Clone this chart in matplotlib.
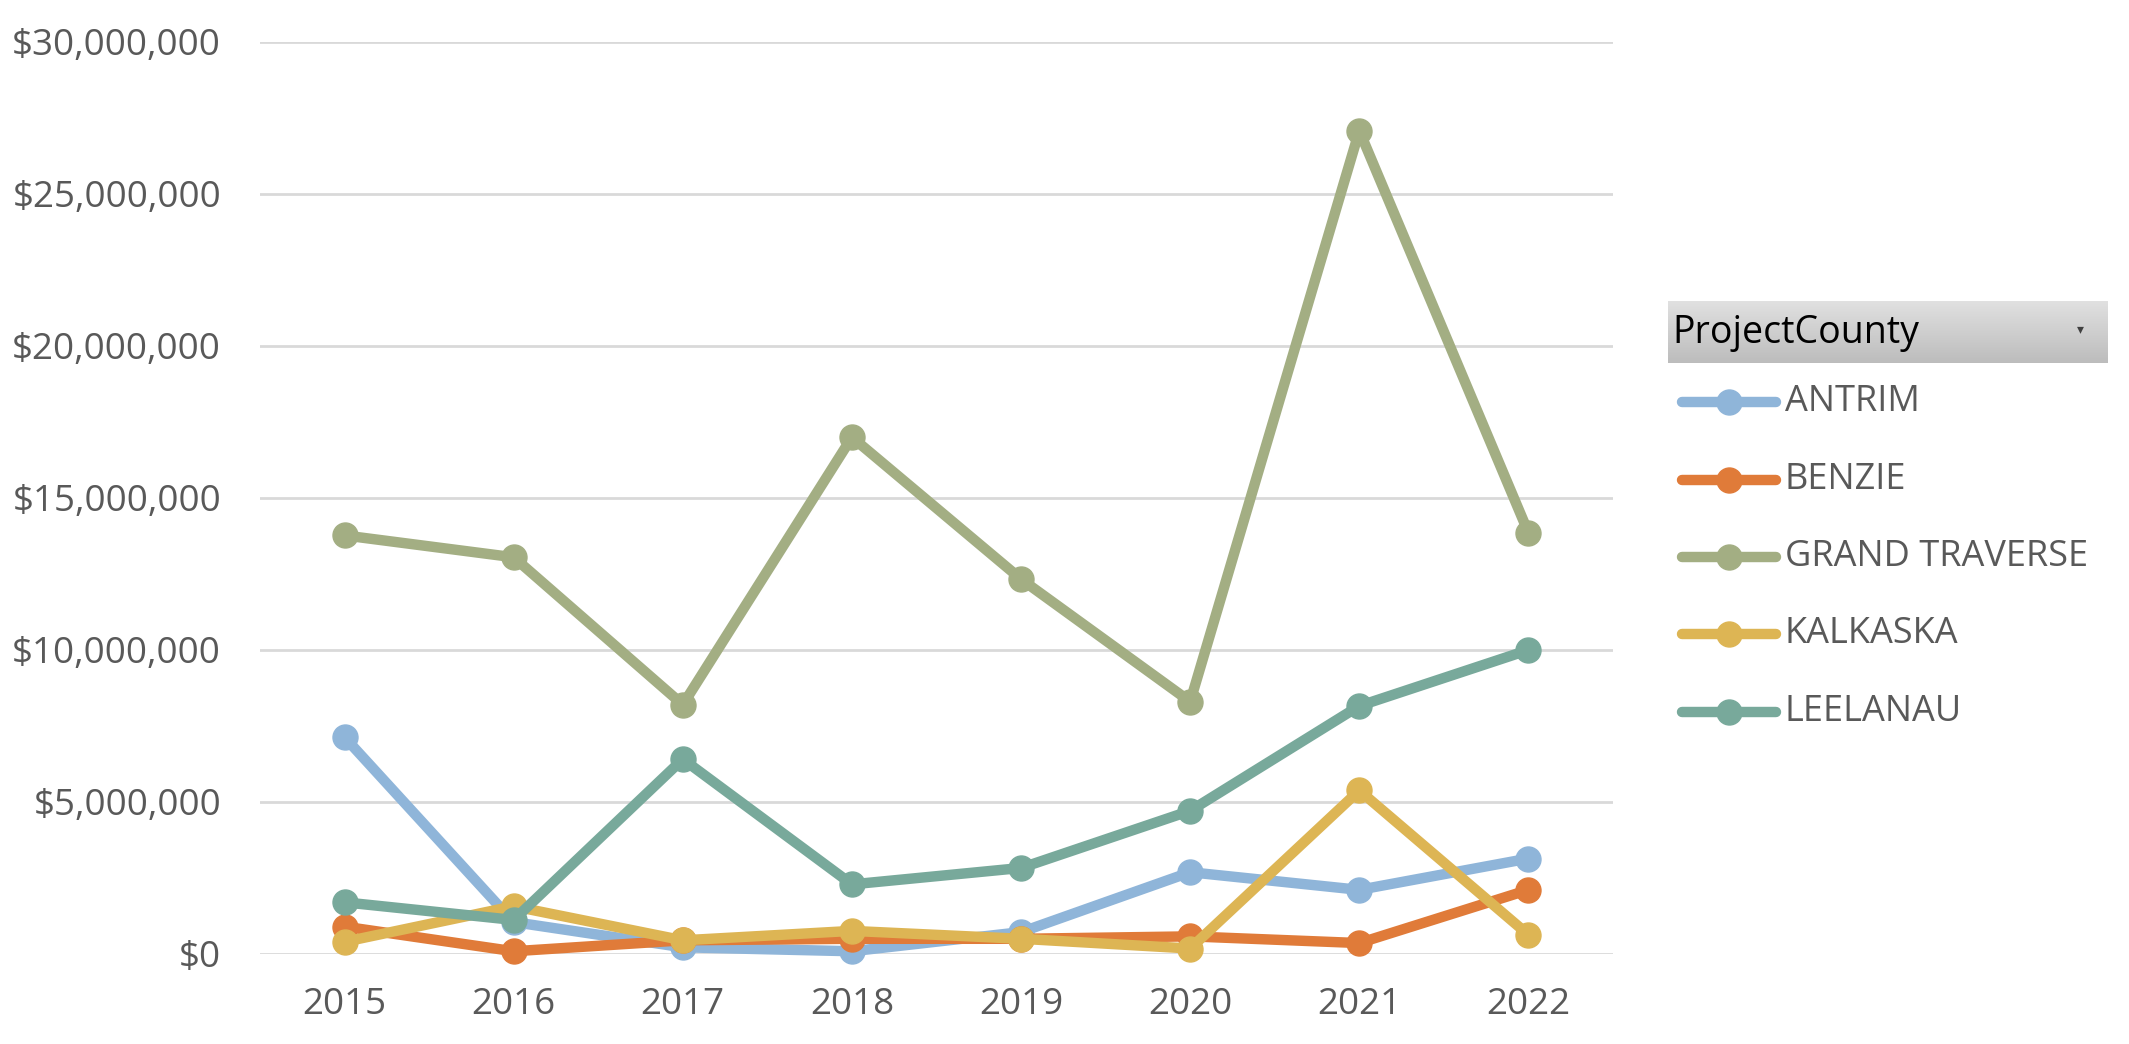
import numpy as np
import matplotlib
matplotlib.use("Agg")
import matplotlib.pyplot as plt
from matplotlib.lines import Line2D
from matplotlib.ticker import FuncFormatter

years = ["2015", "2016", "2017", "2018", "2019", "2020", "2021", "2022"]
counties = ["ANTRIM", "BENZIE", "GRAND TRAVERSE", "KALKASKA", "LEELANAU"]

antrim = [7.13, 1.05, 0.22, 0.09, 0.72, 2.69, 2.11, 3.14]
benzie = [0.90, 0.09, 0.45, 0.50, 0.50, 0.58, 0.36, 2.11]
grand_traverse = [13.77, 13.05, 8.20, 17.00, 12.33, 8.30, 27.08, 13.86]
kalkaska = [0.40, 1.57, 0.45, 0.76, 0.50, 0.18, 5.38, 0.63]
leelanau = [1.70, 1.12, 6.41, 2.29, 2.83, 4.71, 8.16, 10.00]

colors = ["#8FB5D9", "#E07B39", "#A3AE83", "#DDB554", "#78A99B"]
series = [antrim, benzie, grand_traverse, kalkaska, leelanau]

W, H = 2129, 1044
fig = plt.figure(figsize=(W / 100, H / 100), dpi=100)
fig.patch.set_facecolor("white")
plt.rcParams['font.family'] = ['Open Sans', 'DejaVu Sans']

# plot area in pixels
x0, x1 = 260, 1613
y_top, y_bot = 42, 954
ax = fig.add_axes([x0 / W, 1 - y_bot / H, (x1 - x0) / W, (y_bot - y_top) / H])
ax.set_xlim(-0.5, len(years) - 0.5)
ax.set_ylim(0, 30e6)

xs = np.arange(len(years))
for vals, c in zip(series, colors):
    ax.plot(xs, np.array(vals) * 1e6, color=c, lw=7.5, marker="o", ms=18,
            solid_capstyle="round", solid_joinstyle="round", zorder=3, clip_on=False)

ax.set_yticks(np.arange(0, 30e6 + 1, 5e6))
ax.yaxis.set_major_formatter(FuncFormatter(lambda v, p: "${:,.0f}".format(v)))
ax.set_xticks(xs)
ax.set_xticklabels(years)
ax.grid(axis="y", color="#D9D9D9", lw=2)
ax.set_axisbelow(True)
for s in ax.spines.values():
    s.set_visible(False)
ax.tick_params(length=0, labelsize=26.5, colors="#595959")
ax.tick_params(axis="y", pad=28)
ax.tick_params(axis="x", pad=24)

# legend header with gradient
hx0, hx1, hy0, hy1 = 1668, 2108, 301, 363
hax = fig.add_axes([hx0 / W, 1 - hy1 / H, (hx1 - hx0) / W, (hy1 - hy0) / H])
grad = np.linspace(0.88, 0.74, 50).reshape(-1, 1)
hax.imshow(np.dstack([grad, grad, grad]), aspect="auto", extent=[0, 1, 0, 1])
hax.set_xlim(0, 1)
hax.set_ylim(0, 1)
hax.axis("off")
fig.text(1672 / W, 1 - 333 / H, "ProjectCounty", fontsize=27, color="black",
         va="center", ha="left")
fig.text(2080 / W, 1 - 330 / H, "\u25BE", fontsize=10, color="#404040",
         va="center", ha="center")

rows = [402, 480, 557, 634, 712]
for name, c, ry in zip(counties, colors, rows):
    yy = 1 - ry / H
    fig.add_artist(Line2D([1682 / W, 1776 / W], [yy, yy], color=c, lw=7.5,
                          solid_capstyle="round", transform=fig.transFigure))
    fig.add_artist(Line2D([1729 / W], [yy], color=c, marker="o", ms=18,
                          transform=fig.transFigure))
    fig.text(1785 / W, yy, name, fontsize=26, color="#595959", va="center", ha="left")

fig.savefig("out.png", dpi=100)
